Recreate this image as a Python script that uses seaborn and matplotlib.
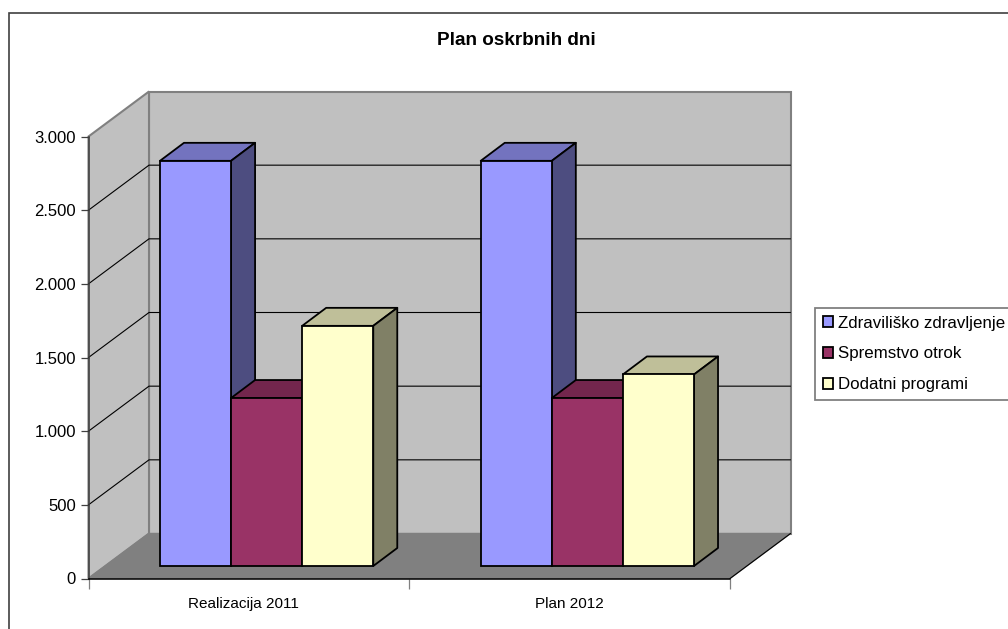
import matplotlib
matplotlib.use("Agg")
import matplotlib.pyplot as plt
from matplotlib.patches import Polygon, Rectangle
from matplotlib.transforms import Affine2D
import pandas as pd
import seaborn as sns

categories = ["Realizacija 2011", "Plan 2012"]
series_names = ["Zdraviliško zdravljenje", "Spremstvo otrok", "Dodatni programi"]
zdravilisko = [2750, 2750]
spremstvo = [1140, 1140]
dodatni = [1630, 1300]
y_ticks = [0, 500, 1000, 1500, 2000, 2500, 3000]
y_labels = ["0", "500", "1.000", "1.500", "2.000", "2.500", "3.000"]
colors = ["#9999FF", "#993366", "#FFFFCC"]
top_colors = ["#7373BF", "#73264D", "#BFBF99"]
side_colors = ["#4D4D80", "#4D1A33", "#808066"]

W, H = 1008, 629
sns.set_theme(style="white")
plt.rcParams["font.family"] = ["Liberation Sans", "DejaVu Sans"]

fig = plt.figure(figsize=(W / 100, H / 100), dpi=100, facecolor="white")
ax = fig.add_axes([88.5 / W, 1 - 578.5 / H, 641.5 / W, 442 / H])
ax.patch.set_alpha(0)

df = pd.DataFrame({
    "kategorija": categories * 3,
    "serija": [s for s in series_names for _ in categories],
    "vrednost": zdravilisko + spremstvo + dodatni,
})
sns.barplot(data=df, x="kategorija", y="vrednost", hue="serija", order=categories,
            hue_order=series_names, palette=colors, saturation=1, width=0.665, gap=0,
            edgecolor="black", linewidth=1.3, ax=ax, errorbar=None)
ax.set_xlim(-0.5, 1.5)
ax.set_ylim(0, 3000)
ax.set_xlabel("")
ax.set_ylabel("")

# pixel-to-data scale for the oblique projection
ux = 2 / 641.5
uy = 3000 / 442
wall_dx, wall_dy = 60.5 * ux, 45 * uy
bar_dx, bar_dy = 17.75 * ux, 12.5 * uy
face_dx, face_dy = 24 * ux, 18 * uy
x0, x1 = -0.5, 1.5

grey = "#808080"
wall_kw = dict(clip_on=False, zorder=0.5, facecolor="#C0C0C0", edgecolor=grey, linewidth=1.5, joinstyle="miter")
ax.add_patch(Polygon([(x0 + wall_dx, wall_dy), (x1 + wall_dx, wall_dy), (x1 + wall_dx, 3000 + wall_dy),
                      (x0 + wall_dx, 3000 + wall_dy)], **wall_kw))
ax.add_patch(Polygon([(x0, 0), (x0 + wall_dx, wall_dy), (x0 + wall_dx, 3000 + wall_dy), (x0, 3000)], **wall_kw))
ax.add_patch(Polygon([(x0, 0), (x1, 0), (x1 + wall_dx, wall_dy), (x0 + wall_dx, wall_dy)],
                     clip_on=False, zorder=0.6, facecolor=grey, edgecolor=grey, linewidth=1))
ax.plot([x1, x1 + wall_dx], [0, wall_dy], color="black", lw=0.8, clip_on=False, zorder=0.7)
for v in y_ticks[1:-1]:
    ax.plot([x0, x0 + wall_dx, x1 + wall_dx], [v, v + wall_dy, v + wall_dy], color="black", lw=0.8,
            clip_on=False, zorder=0.7, solid_joinstyle="miter")

# bars with their oblique top and side faces, painted left to right
bars = [(p, j) for j, cont in enumerate(ax.containers) for p in cont]
bars.sort(key=lambda b: b[0].get_x())
for k, (p, j) in enumerate(bars):
    p.set_x(p.get_x() + bar_dx)
    p.set_y(bar_dy)
    p.set_clip_on(False)
    p.set_zorder(1 + k + 0.2)
    l, r = p.get_x(), p.get_x() + p.get_width()
    b, t = p.get_y(), p.get_y() + p.get_height()
    face = dict(clip_on=False, zorder=1 + k, edgecolor="black", linewidth=1.3, joinstyle="round")
    ax.add_patch(Polygon([(l, t), (r, t), (r + face_dx, t + face_dy), (l + face_dx, t + face_dy)],
                         facecolor=top_colors[j], **face))
    ax.add_patch(Polygon([(r, b), (r + face_dx, b + face_dy), (r + face_dx, t + face_dy), (r, t)],
                         facecolor=side_colors[j], **face))

# axes, ticks
sns.despine(ax=ax, top=True, right=True, left=False, bottom=False)
ax.spines["left"].set(color="#404040", linewidth=1.1, zorder=0.9)
ax.spines["bottom"].set(color="black", linewidth=1.1, zorder=0.9)
ax.set_yticks(y_ticks, y_labels)
ax.tick_params(axis="y", length=6, width=0.9, color="#404040", pad=3, labelsize=12, left=True, labelcolor="black")
ax.set_xticks([-0.5, 0.5, 1.5], minor=True)
ax.tick_params(axis="x", which="major", length=0, pad=13, labelsize=11, labelcolor="black")
ax.tick_params(axis="x", which="minor", length=7, width=0.9, color=grey, bottom=True)
first = ax.get_xticklabels()[0]
first.set_transform(first.get_transform() + Affine2D().translate(-5, 0))

# legend, which runs past the right edge as in the source picture
handles, labels = ax.get_legend_handles_labels()
leg = ax.legend(handles, labels, loc="upper left", bbox_to_anchor=(815 / W, 1 - 308 / H),
                bbox_transform=fig.transFigure, borderaxespad=0, fontsize=12.2, labelspacing=0.93,
                handlelength=0.6, handleheight=0.6, handletextpad=0.3, borderpad=0.45,
                fancybox=False, framealpha=1, edgecolor=grey, facecolor="white")
leg.get_frame().set_linewidth(1.3)
for t in leg.get_texts():
    t.set_color("black")

fig.text(516 / W, 1 - 40.5 / H, "Plan oskrbnih dni", ha="center", va="center", fontsize=13.6,
         fontweight="bold", color="black")
fig.add_artist(Rectangle((9 / W, -0.05), 1.1, 1 - 13 / H + 0.05, transform=fig.transFigure, fill=False,
                         edgecolor="#404040", linewidth=1.2, zorder=-1))
fig.savefig("out.png", dpi=100)
